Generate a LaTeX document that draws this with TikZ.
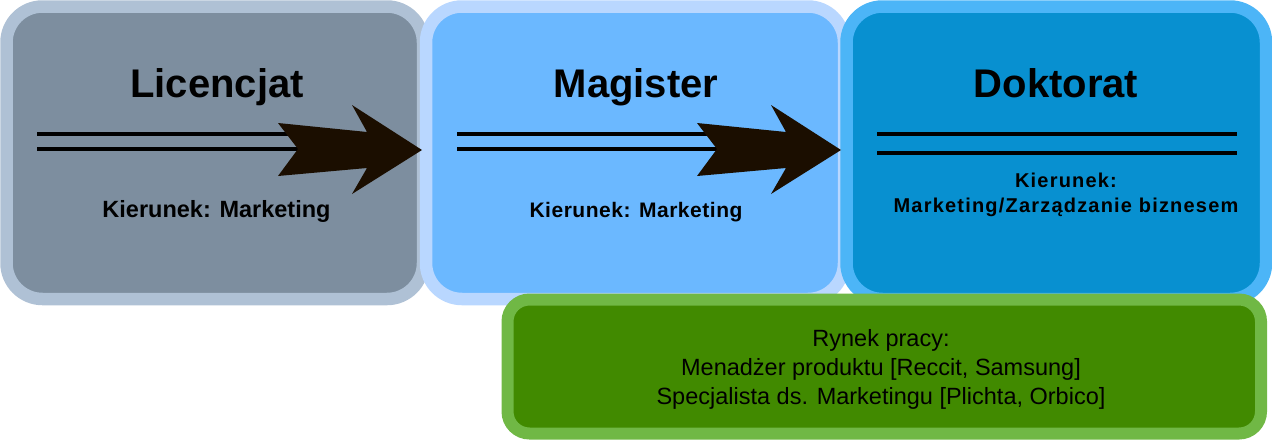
\documentclass[tikz,border=0pt]{standalone}
\usepackage{fontspec}
\setsansfont{Liberation Sans}
\definecolor{licOut}{HTML}{AFC1D5}
\definecolor{licIn}{HTML}{7D8E9F}
\definecolor{magOut}{HTML}{B9D7FF}
\definecolor{magIn}{HTML}{6BB8FF}
\definecolor{dokOut}{HTML}{4CB5F7}
\definecolor{dokIn}{HTML}{0890D0}
\definecolor{rynekOut}{HTML}{70B845}
\definecolor{rynekIn}{HTML}{418A00}
\definecolor{arrowFill}{HTML}{1B0E00}

\begin{document}
\begin{tikzpicture}[x = 1pt, y = -1pt, font=\sffamily]
	\tikzstyle{boxStyle}=[shape = rectangle, rounded corners = 36pt, line width = 12.5pt, inner sep = 0pt, minimum height = 292.5pt]
	\tikzstyle{rynekStyle}=[shape = rectangle, rounded corners = 22pt, line width = 12pt, inner sep = 0pt, draw = rynekOut, fill = rynekIn]
	\tikzstyle{titleStyle}=[anchor = base, inner sep = 0pt, font = \sffamily\bfseries\fontsize{40}{48}\selectfont]
	\tikzstyle{fieldStyle}=[anchor = base, inner sep = 0pt, font = \sffamily\bfseries\fontsize{23.5}{27}\selectfont]
	\tikzstyle{lineStyle}=[line width = 3.5pt]
	\tikzstyle{arrowStyle}=[fill = arrowFill]
	\useasboundingbox (0,0) rectangle (1272,440);
	\node[boxStyle, draw = licOut, fill = licIn, minimum width = 416.5pt] (lic) at (214.75,152.75) {};
	\node[boxStyle, draw = magOut, fill = magIn, minimum width = 418pt] (mag) at (635,152.75) {};
	\node[boxStyle, draw = dokOut, fill = dokIn, minimum width = 419.5pt] (dok) at (1056.25,152.75) {};
	\node[rynekStyle, minimum width = 753.5pt, minimum height = 134pt] (rynek) at (884.25,366.5) {};
	\coordinate (licA) at (37,134);
	\coordinate (licB) at (300,134);
	\coordinate (licC) at (37,149);
	\coordinate (licD) at (300,149);
	\coordinate (magA) at (457,134);
	\coordinate (magB) at (718,134);
	\coordinate (magC) at (457,149);
	\coordinate (magD) at (718,149);
	\coordinate (dokA) at (877,134);
	\coordinate (dokB) at (1237,134);
	\coordinate (dokC) at (877,153);
	\coordinate (dokD) at (1237,153);
	\coordinate (tip1) at (422,150);
	\coordinate (tip2) at (841,150);
	\draw[lineStyle] (licA) -- (licB);
	\draw[lineStyle] (licC) -- (licD);
	\draw[lineStyle] (magA) -- (magB);
	\draw[lineStyle] (magC) -- (magD);
	\draw[lineStyle] (dokA) -- (dokB);
	\draw[lineStyle] (dokC) -- (dokD);
	\fill[arrowStyle, shift = {(tip1)}] (-144,-27) -- (-55,-18) -- (-70,-45) -- (0,0) -- (-70,44) -- (-55,18) -- (-144,26) -- (-124,-1) -- cycle;
	\fill[arrowStyle, shift = {(tip2)}] (-144,-27) -- (-55,-18) -- (-70,-45) -- (0,0) -- (-70,44) -- (-55,18) -- (-144,26) -- (-124,-1) -- cycle;
	\node[titleStyle] (licT) at (217,97) {Licencjat};
	\node[titleStyle] (magT) at (636,97) {Magister};
	\node[titleStyle] (dokT) at (1056,97) {Doktorat};
	\node[fieldStyle] (licK) at (216.5,217) {Kierunek: Marketing};
	\node[fieldStyle, font = \sffamily\bfseries\fontsize{21}{25}\selectfont\addfontfeature{LetterSpace = 2.5}] (magK) at (636,217) {Kierunek: Marketing};
	\node[inner sep = 0pt, align = center, font = \sffamily\bfseries\fontsize{20}{25}\selectfont\addfontfeature{LetterSpace = 6}] (dokK) at (1066,195.3) {Kierunek:\\Marketing/Zarządzanie biznesem};
	\node[inner sep = 0pt, align = center, font = \sffamily\fontsize{23.5}{29}\selectfont] (rynekT) at (881,369) {Rynek pracy:\\Menadżer produktu [Reccit, Samsung]\\Specjalista ds. Marketingu [Plichta, Orbico]};
\end{tikzpicture}
\end{document}
